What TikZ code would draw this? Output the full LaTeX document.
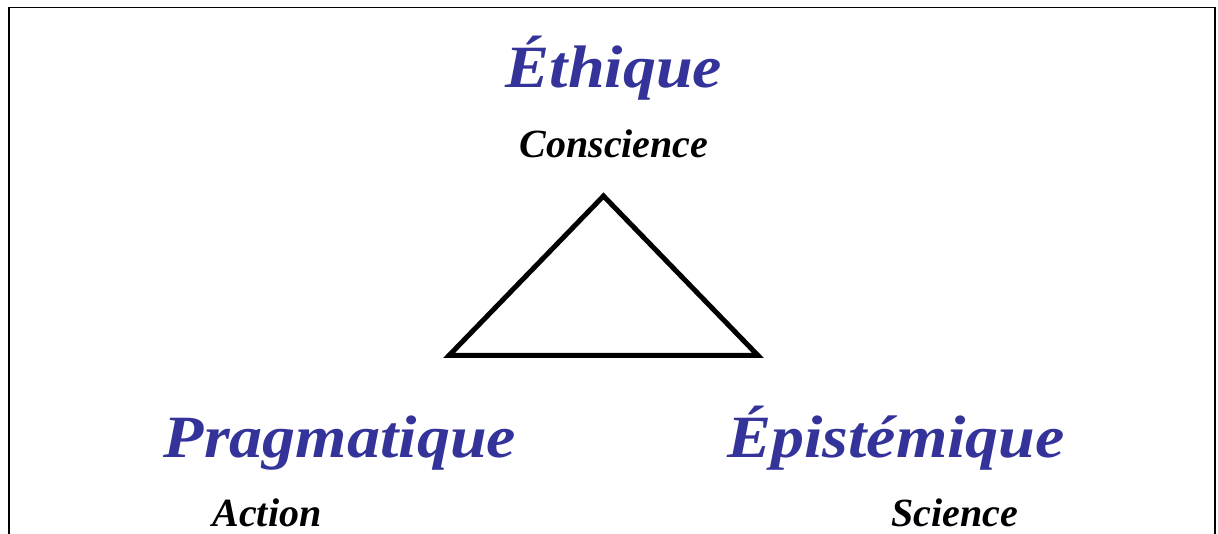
\documentclass[tikz,border=0pt]{standalone}
\usepackage{fontspec}
\setmainfont{Liberation Serif}
\newfontfamily\polefont[FakeStretch=1.1]{Liberation Serif}
\definecolor{poleblue}{RGB}{51,51,153}

\begin{document}
\begin{tikzpicture}[
    x=1pt, y=1pt,
    frame line/.style={line width=1.5pt},
    triangle line/.style={line width=5pt, line join=miter},
    pole/.style={anchor=base, inner sep=0pt, text=poleblue,
        font=\polefont\fontsize{60}{64}\selectfont\bfseries\itshape},
    faculty/.style={anchor=base, inner sep=0pt, text=black,
        font=\fontsize{40}{44}\selectfont\bfseries\itshape}
]
    % Canvas
    \useasboundingbox (0,0) rectangle (1218,534);
    \draw[frame line] (9,-5) -- (9,526.5) -- (1215,526.5) -- (1215,-5);

    % Triangle corners
    \coordinate (top) at (603.5,338);
    \coordinate (left) at (449,178.5);
    \coordinate (right) at (758,178.5);
    \draw[triangle line] (top) -- (right) -- (left) -- cycle;

    % Poles
    \node[pole] (ethique) at (614,446) {Éthique};
    \node[faculty] (conscience) at (614,376) {Conscience};

    \node[pole] (pragmatique) at (340,76) {Pragmatique};
    \node[faculty] (action) at (267,7) {Action};

    \node[pole] (epistemique) at (896,76) {Épistémique};
    \node[faculty] (science) at (955,7) {Science};
\end{tikzpicture}
\end{document}
